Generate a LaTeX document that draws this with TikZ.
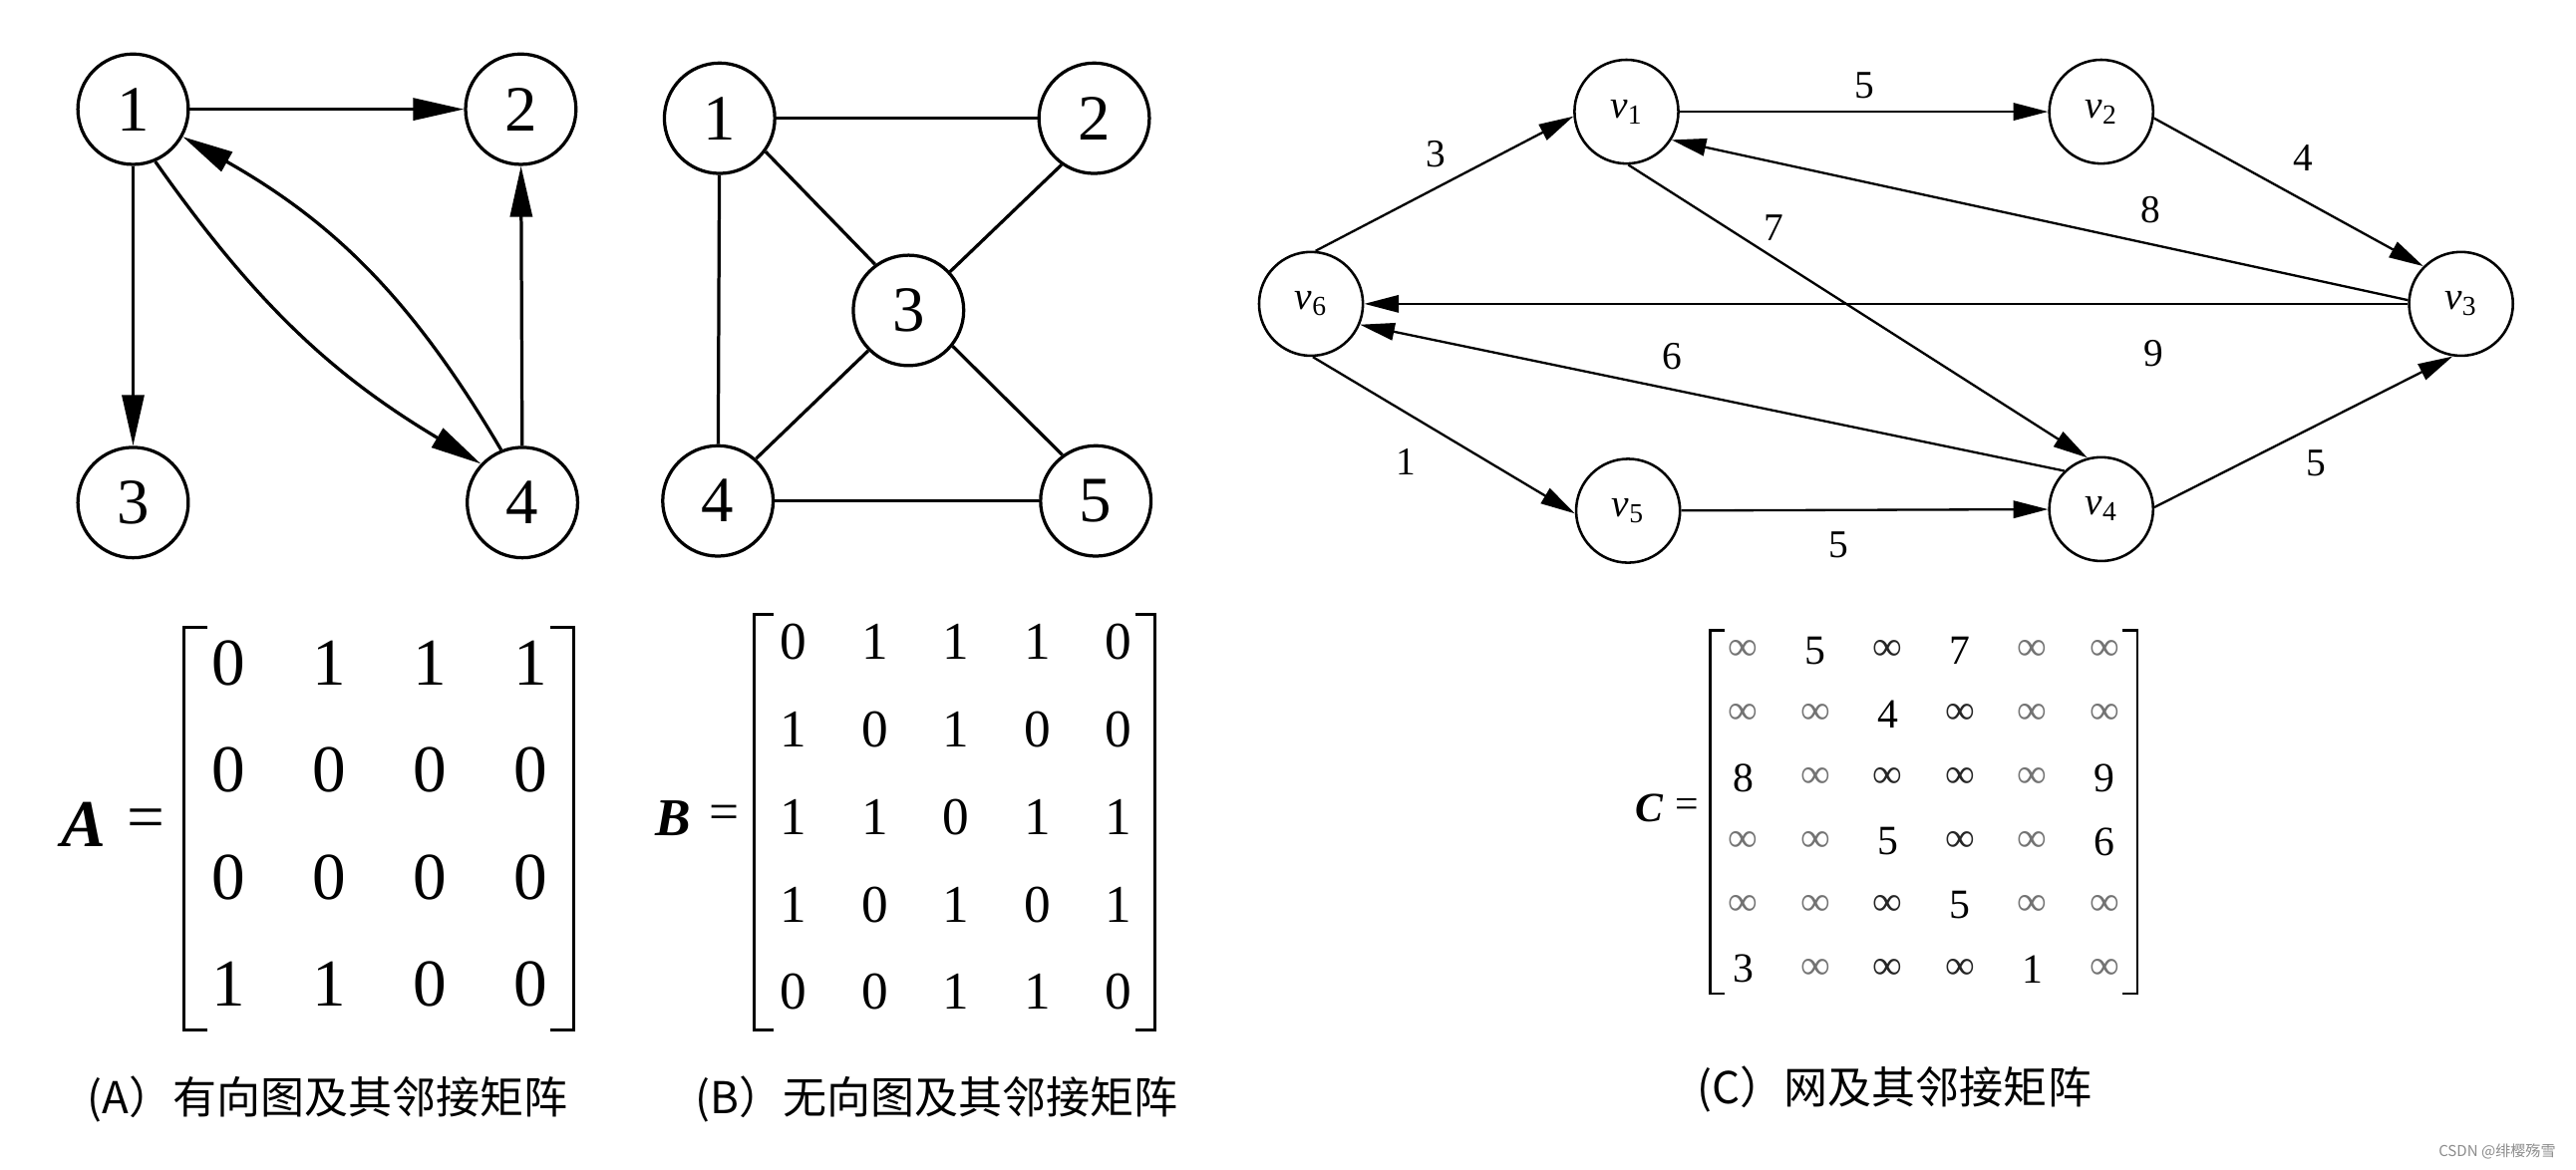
\documentclass[tikz,border=0pt]{standalone}
\usepackage{fontspec}
\setmainfont{Liberation Serif}
\newfontfamily\cjkfont{Noto Sans CJK SC}
\usetikzlibrary{arrows.meta}
\newcommand\infL{\textcolor{black!55}{∞}}
\newcommand\infD{\textcolor{black!85}{∞}}
\newcommand\vsub[1]{{\itshape v}\textsubscript{#1}}
\begin{document}
\begin{tikzpicture}[x=0.025cm,y=-0.025cm,
  vtxA/.style={circle,draw,line width=1.4pt,minimum size=1.68cm,inner sep=0pt,font=\fontsize{28}{30}\selectfont},
  vtxC/.style={circle,draw,line width=1.1pt,minimum size=1.58cm,inner sep=0pt,font=\fontsize{17}{19}\selectfont},
  arrA/.style={-{Triangle[length=22pt,width=9.5pt]},line width=1.4pt},
  edgeB/.style={line width=1.4pt},
  arrC/.style={-{Triangle[length=15pt,width=7.5pt]},line width=1.0pt},
  wlab/.style={font=\fontsize{17}{19}\selectfont,inner sep=0pt},
  entA/.style={font=\fontsize{29}{30}\selectfont,inner sep=0pt},
  entB/.style={font=\fontsize{23}{25}\selectfont,inner sep=0pt},
  entC/.style={font=\fontsize{18}{20}\selectfont,inner sep=0pt},
  brk/.style={line width=1.2pt},
  capt/.style={font=\cjkfont\fontsize{19}{21}\selectfont,anchor=west,inner sep=0pt}]
\useasboundingbox[fill=white] (0,0) rectangle (1568,712);

% ---------- Panel A graph ----------
\node[vtxA] (A1) at (81,66.5) {1};
\node[vtxA] (A2) at (317,66.5) {2};
\node[vtxA] (A3) at (81,306) {3};
\node[vtxA] (A4) at (318,306) {4};
\draw[arrA] (A1) -- (A2);
\draw[arrA] (A1) -- (A3);
\draw[arrA] (A4) -- (A2);
\draw[arrA] (A1.-67) to[bend right=12] (A4.137);
\draw[arrA] (A4.112) to[bend right=15] (A1.-29);

% ---------- Panel B graph ----------
\node[vtxA] (B1) at (438,72) {1};
\node[vtxA] (B2) at (666,72) {2};
\node[vtxA] (B3) at (553,189) {3};
\node[vtxA] (B4) at (437,305) {4};
\node[vtxA] (B5) at (667,305) {5};
\draw[edgeB] (B1) -- (B2);
\draw[edgeB] (B1) -- (B4);
\draw[edgeB] (B4) -- (B5);
\draw[edgeB] (B1.-36) -- (B3.126);
\draw[edgeB] (B2.235) -- (B3.43);
\draw[edgeB] (B3.-135) -- (B4.48);
\draw[edgeB] (B3.-39) -- (B5.126);

% ---------- Panel C graph ----------
\node[vtxC] (v1) at (990,68) {\vsub{1}};
\node[vtxC] (v2) at (1279,68) {\vsub{2}};
\node[vtxC] (v3) at (1498,185) {\vsub{3}};
\node[vtxC] (v4) at (1279,310) {\vsub{4}};
\node[vtxC] (v5) at (991,311) {\vsub{5}};
\node[vtxC] (v6) at (798,185) {\vsub{6}};
\draw[arrC] (v6.85) -- (v1.185);
\draw[arrC] (v1) -- (v2);
\draw[arrC] (v2.-7) -- (v3.135);
\draw[arrC] (v3.176) -- (v1.-32);
\draw[arrC] (v3.180) -- (v6.0);
\draw[arrC] (v1.-88) -- (v4.105);
\draw[arrC] (v4.134) -- (v6.-23);
\draw[arrC] (v6.-88) -- (v5.183);
\draw[arrC] (v5) -- (v4);
\draw[arrC] (v4.2) -- (v3.-99);
\node[wlab] (w3) at (874,94) {3};
\node[wlab] (w5a) at (1135,52) {5};
\node[wlab] (w4) at (1402,96) {4};
\node[wlab] (w8) at (1309,128) {8};
\node[wlab] (w7) at (1080,139) {7};
\node[wlab] (w9) at (1311,215) {9};
\node[wlab] (w6) at (1018,217) {6};
\node[wlab] (w1) at (856,281) {1};
\node[wlab] (w5b) at (1119,332) {5};
\node[wlab] (w5c) at (1410,282) {5};

% ---------- Matrix A ----------
\node[entA] (lblA) at (51,502) {\textbf{\textit{A}}};
\node[entA] (eqA) at (89,502) {=};
\foreach \rw [count=\r] in {{0,1,1,1},{0,0,0,0},{0,0,0,0},{1,1,0,0}} {
  \foreach \val [count=\c] in \rw {
    \node[entA] (a\r\c) at ({139+(\c-1)*61.3},{404+(\r-1)*65}) {\val};
  }
}
\draw[brk] (126,382) -- (112,382) -- (112,627) -- (126,627);
\draw[brk] (335,382) -- (349,382) -- (349,627) -- (335,627);

% ---------- Matrix B ----------
\node[entB] (lblB) at (410,498) {\textbf{\textit{B}}};
\node[entB] (eqB) at (441,498) {=};
\foreach \rw [count=\r] in {{0,1,1,1,0},{1,0,1,0,0},{1,1,0,1,1},{1,0,1,0,1},{0,0,1,1,0}} {
  \foreach \val [count=\c] in \rw {
    \node[entB] (b\r\c) at ({483+(\c-1)*49.5},{391+(\r-1)*53.25}) {\val};
  }
}
\draw[brk] (471,374) -- (459,374) -- (459,627) -- (471,627);
\draw[brk] (691,374) -- (703,374) -- (703,627) -- (691,627);

% ---------- Matrix C ----------
\node[entC] (lblC) at (1004,492) {\textbf{\textit{C}}};
\node[entC] (eqC) at (1027,492) {=};
\foreach \rw [count=\r] in {{\infL,5,\infD,7,\infL,\infL},{\infL,\infL,4,\infD,\infL,\infL},{8,\infL,\infD,\infD,\infL,9},{\infL,\infL,5,\infD,\infL,6},{\infL,\infL,\infD,5,\infL,\infL},{3,\infL,\infD,\infD,1,\infL}} {
  \foreach \val [count=\c] in \rw {
    \node[entC] (c\r\c) at ({1061+(\c-1)*44},{396+(\r-1)*38.8}) {\val};
  }
}
\draw[brk] (1050,384) -- (1041,384) -- (1041,605) -- (1050,605);
\draw[brk] (1292,384) -- (1301,384) -- (1301,605) -- (1292,605);

% ---------- Captions ----------
\node[capt] (capA) at (53,669) {(A）有向图及其邻接矩阵};
\node[capt] (capB) at (423,669) {(B）无向图及其邻接矩阵};
\node[capt] (capC) at (1033,663) {(C）网及其邻接矩阵};
\node[font=\cjkfont\fontsize{6.5}{7}\selectfont,text=black!45,inner sep=0pt] (wm) at (1520,701) {CSDN @绯樱殇雪};
\end{tikzpicture}
\end{document}
